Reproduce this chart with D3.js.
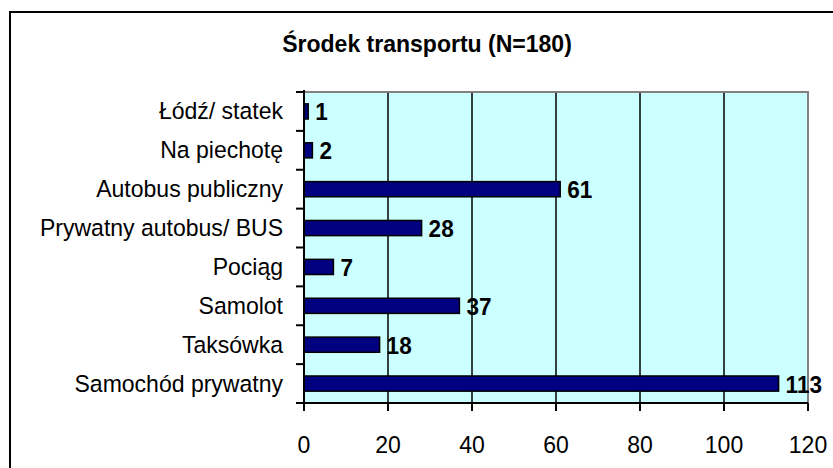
<!DOCTYPE html>
<html><head><meta charset="utf-8">
<script src="https://cdn.jsdelivr.net/npm/d3@7"></script>
<style>html,body{margin:0;padding:0;background:#fff;overflow:hidden}</style>
</head><body>
<svg id="c" width="833" height="468"></svg>
<script>
const title = "Środek transportu (N=180)";
const categories = ["Łódź/ statek","Na piechotę","Autobus publiczny","Prywatny autobus/ BUS","Pociąg","Samolot","Taksówka","Samochód prywatny"];
const values = [1,2,61,28,7,37,18,113];
const xTicks = [0,20,40,60,80,100,120];

const svg = d3.select("#c");
const font = "'Liberation Sans', Arial, sans-serif";
const SX = 0.98; // horizontal scale of text
const FS = 23.5;
const plot = {left:304, right:808, top:92, bottom:403};

// outer frame
svg.append("rect").attr("x",10).attr("y",12).attr("width",840).attr("height",480)
  .attr("fill","#fff").attr("stroke","#000").attr("stroke-width",2);

const x = d3.scaleLinear().domain([0,120]).range([plot.left, plot.right]);
const y = d3.scaleBand().domain(categories).range([plot.top, plot.bottom]).paddingInner(0.61).paddingOuter(0.305);
const yb = d3.scaleBand().domain(categories).range([plot.top, plot.bottom]);

// plot background
svg.append("rect").attr("x",plot.left).attr("y",plot.top).attr("width",plot.right-plot.left).attr("height",plot.bottom-plot.top)
  .attr("fill","#CCFFFF");
// gridlines
svg.append("g").selectAll("line").data(xTicks.slice(1,-1)).join("line")
  .attr("x1",d=>x(d)).attr("x2",d=>x(d)).attr("y1",plot.top).attr("y2",plot.bottom)
  .attr("stroke","#000").attr("stroke-width",1.5);
// top/right border gray
svg.append("path").attr("d",`M${plot.left},${plot.top}H${plot.right}V${plot.bottom}`)
  .attr("fill","none").attr("stroke","#808080").attr("stroke-width",2);

// bars
svg.append("g").selectAll("rect").data(categories).join("rect")
  .attr("x",x(0)).attr("y",d=>y(d)).attr("height",y.bandwidth())
  .attr("width",(d,i)=>x(values[i])-x(0))
  .attr("fill","#000080").attr("stroke","#000").attr("stroke-width",1.5);

// axes lines
svg.append("line").attr("x1",plot.left).attr("x2",plot.left).attr("y1",plot.top-2).attr("y2",plot.bottom+8)
  .attr("stroke","#000").attr("stroke-width",2);
svg.append("line").attr("x1",plot.left-8).attr("x2",plot.right).attr("y1",plot.bottom).attr("y2",plot.bottom)
  .attr("stroke","#000").attr("stroke-width",2);
// y ticks at category boundaries
const bounds = categories.map(c=>yb(c)).concat([plot.bottom]);
svg.append("g").selectAll("line").data(bounds).join("line")
  .attr("x1",plot.left-8).attr("x2",plot.left).attr("y1",d=>d).attr("y2",d=>d)
  .attr("stroke","#000").attr("stroke-width",2);
// x ticks
svg.append("g").selectAll("line").data(xTicks).join("line")
  .attr("x1",d=>x(d)).attr("x2",d=>x(d)).attr("y1",plot.bottom).attr("y2",plot.bottom+8)
  .attr("stroke","#000").attr("stroke-width",2);

function txt(px, py, s, anchor, weight, fs){
  const g = svg.append("g").attr("transform",`translate(${px},${py}) scale(${SX},1)`);
  g.append("text").attr("text-anchor",anchor).attr("font-family",font).attr("font-size",fs||FS)
    .attr("font-weight",weight||"normal").attr("fill","#000").text(s);
}
// x tick labels
xTicks.forEach(t=>txt(x(t), 453, t, "middle"));
// category labels
categories.forEach(c=>txt(plot.left-21, yb(c)+yb.bandwidth()/2+8, c, "end"));
// value labels
categories.forEach((c,i)=>txt(x(values[i])+7, yb(c)+yb.bandwidth()/2+9, values[i], "start", "bold", 23));
// title
txt(427, 52, title, "middle", "bold", 23.5);
</script>
</body></html>
